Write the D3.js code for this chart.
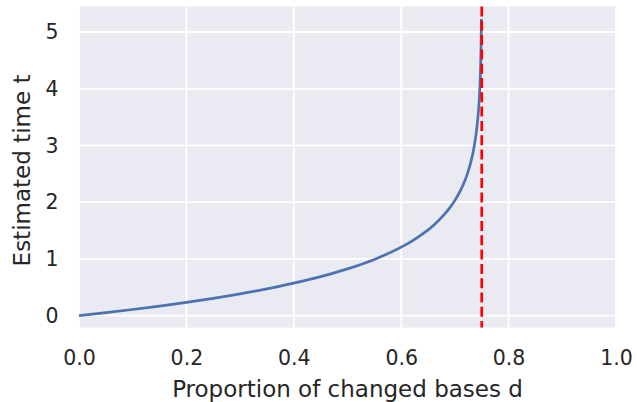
<!DOCTYPE html>
<html>
<head>
<meta charset="utf-8">
<script src="https://cdn.jsdelivr.net/npm/d3@7"></script>
<style>
  body { margin: 0; background: #fff; }
  text { font-family: "DejaVu Sans", sans-serif; fill: #262626; }
</style>
</head>
<body>
<div id="chart"></div>
<script>
// values
const dVals = [0, 0.05, 0.1, 0.15, 0.2, 0.25, 0.3, 0.35, 0.4, 0.45, 0.5, 0.55, 0.6, 0.62, 0.64, 0.66, 0.68, 0.69, 0.7, 0.71, 0.72, 0.725, 0.73, 0.735, 0.74, 0.743, 0.745, 0.747, 0.748, 0.749, 0.7493];
const tVals = [0, 0.052, 0.107, 0.167, 0.233, 0.304, 0.383, 0.472, 0.572, 0.687, 0.824, 0.991, 1.207, 1.314, 1.44, 1.59, 1.779, 1.894, 2.031, 2.198, 2.414, 2.551, 2.718, 2.934, 3.238, 3.506, 3.758, 4.141, 4.445, 4.965, 5.23];
const limitD = 0.75;
const xTicks = [0, 0.2, 0.4, 0.6, 0.8, 1.0];
const yTicks = [0, 1, 2, 3, 4, 5];

const W = 637, H = 402;
const plot = { left: 79, right: 616, top: 6.5, bottom: 327.5 };

const svg = d3.select("#chart")
  .append("svg")
  .attr("width", W)
  .attr("height", H);

const x = d3.scaleLinear().domain([0, 1]).range([plot.left, plot.right]);
const y = d3.scaleLinear().domain([-0.21, 5.45]).range([plot.bottom, plot.top]);

// background
svg.append("rect")
  .attr("x", plot.left)
  .attr("y", plot.top)
  .attr("width", plot.right - plot.left)
  .attr("height", plot.bottom - plot.top)
  .attr("fill", "#eaeaf2");

// grid
svg.selectAll("line.vgrid")
  .data(xTicks)
  .enter()
  .append("line")
  .attr("class", "vgrid")
  .attr("x1", d => x(d)).attr("x2", d => x(d))
  .attr("y1", plot.top).attr("y2", plot.bottom)
  .attr("stroke", "#fff")
  .attr("stroke-width", 1.8);

svg.selectAll("line.hgrid")
  .data(yTicks)
  .enter()
  .append("line")
  .attr("class", "hgrid")
  .attr("x1", plot.left).attr("x2", plot.right)
  .attr("y1", d => y(d)).attr("y2", d => y(d))
  .attr("stroke", "#fff")
  .attr("stroke-width", 1.8);

// axes (labels only, seaborn darkgrid has no spines/ticks)
const xAxis = svg.append("g")
  .attr("transform", `translate(0,${plot.bottom})`)
  .call(d3.axisBottom(x).tickValues(xTicks).tickFormat(d3.format(".1f")).tickSize(0).tickPadding(23));
xAxis.select(".domain").remove();
xAxis.selectAll("text").attr("font-size", 20.5).attr("fill", "#262626").style("font-family", "DejaVu Sans");

const yAxis = svg.append("g")
  .attr("transform", `translate(${plot.left},0)`)
  .call(d3.axisLeft(y).tickValues(yTicks).tickFormat(d3.format("d")).tickSize(0).tickPadding(20.5));
yAxis.select(".domain").remove();
yAxis.selectAll("text").attr("font-size", 20.5).attr("fill", "#262626").style("font-family", "DejaVu Sans");

// curve
const pts = dVals.map((d, i) => [d, tVals[i]]);
const line = d3.line()
  .x(p => x(p[0]))
  .y(p => y(p[1]))
  .curve(d3.curveMonotoneX);

svg.append("path")
  .datum(pts)
  .attr("fill", "none")
  .attr("stroke", "#4c72b0")
  .attr("stroke-width", 2.7)
  .attr("d", line);

// asymptote
svg.append("line")
  .attr("x1", x(limitD)).attr("x2", x(limitD))
  .attr("y1", plot.top).attr("y2", plot.bottom)
  .attr("stroke", "red")
  .attr("stroke-width", 2.7)
  .attr("stroke-dasharray", "10 4.3");

// axis titles
svg.append("text")
  .attr("x", (plot.left + plot.right) / 2)
  .attr("y", 397)
  .attr("text-anchor", "middle")
  .attr("font-size", 23)
  .text("Proportion of changed bases d");

svg.append("text")
  .attr("transform", `translate(30,170.5) rotate(-90)`)
  .attr("text-anchor", "middle")
  .attr("font-size", 23)
  .text("Estimated time t");
</script>
</body>
</html>
